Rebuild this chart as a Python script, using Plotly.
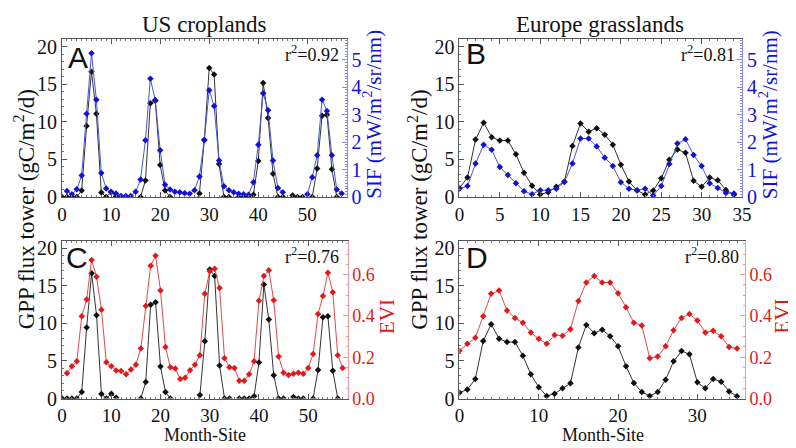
import plotly.graph_objects as go

W, H = 796, 448

# ---------------- data ----------------
# US croplands: GPP (panels A and C share the same tower series)
x_gpp_us = list(range(0, 57))
gpp_us = [0, 0, 0, 0, 0.86, 9.45, 16.67, 11.08, 0.6, 0, 0.64, 0.1, -1, -1, -1, -1,
          0, 2.2, 12.46, 12.8, 4.25, 0.86, 0, -1, -1, -1, -1, -1, 0.45, 7.6,
          17.15, 16.3, 4.4, 0, 0, -1, 0, 0, 0, 0.3, 4.8, 15.15, 10.5, 3.1, 0, 0,
          -1, 0.2, 0, 0, -1, 0, 3.8, 10.8, 10.95, 3.7, 0]

x_sif_us = list(range(1, 58))
sif_us = [0.22, 0.1, 0.28, 0.78, 3.03, 5.23, 3.54, 0.87, 0.31, 0.19, 0.13, 0.04, 0.04,
          0.04, 0.19, 0.64, 2.07, 4.31, 3.53, 1.7, 0.45, 0.27, 0.19, 0.17, 0.14, 0.12,
          0.25, 0.75, 2.07, 3.89, 3.31, 1.33, 0.39, 0.25, 0.17, 0.12, 0.1, 0.08, 0.54,
          1.9, 3.78, 3.16, 1.33, 0.33, 0.17, None, None, None, None, 0.1, 0.72, 1.52,
          3.54, 3.13, 1.52, 0.27, 0.13]

x_evi_us = list(range(1, 58))
evi_us = [0.122, 0.156, 0.18, 0.398, 0.48, 0.671, 0.59, 0.43, 0.175, 0.156, 0.136,
          0.133, 0.117, 0.14, 0.164, 0.242, 0.448, 0.643, 0.692, 0.523, 0.25, 0.151,
          0.145, 0.094, 0.101, 0.137, 0.164, 0.21, 0.507, 0.617, 0.629, 0.535, 0.195,
          0.151, 0.148, 0.086, 0.086, 0.117, 0.18, 0.473, 0.593, 0.621, 0.476, 0.203,
          0.125, 0.114, 0.12, 0.125, 0.12, 0.148, 0.215, 0.409, 0.496, 0.609, 0.515,
          0.21, 0.148]

# Europe grasslands
x_gpp_eu_d = list(range(0, 36))
gpp_eu_d = [0.77, 1.2, 2.58, 7.64, 9.88, 7.95, 7.51, 7.51, 5.67, 3.22, 1.5, 0.34,
            0.64, 1.37, 2.02, 6.79, 9.79, 8.68, 9.15, 8.29, 6.96, 4.3, 2.06, 0.86,
            0.34, 0.86, 2.49, 4.94, 6.31, 5.89, 2.15, 1.37, 2.58, 2.23, 0.94, 0.3]

x_evi_eu = list(range(0, 36))
evi_eu = [0.231, 0.265, 0.294, 0.398, 0.507, 0.523, 0.426, 0.39, 0.367, 0.32, 0.289,
          0.265, 0.308, 0.304, 0.336, 0.472, 0.562, 0.593, 0.562, 0.562, 0.51, 0.442,
          0.367, 0.354, 0.195, 0.203, 0.253, 0.331, 0.39, 0.409, 0.378, 0.32, 0.328,
          0.301, 0.25, 0.242]

x_gpp_eu_b = list(range(0, 35))
gpp_eu_b = [1.2, 2.58, 7.64, 9.88, 7.95, 7.51, 7.51, 5.67, 3.22, 1.5, 0.34, 0.64,
            1.37, 2.02, 6.79, 9.79, 8.68, 9.15, 8.29, 6.96, 4.3, 2.06, 0.86, 0.34,
            0.86, 2.49, 4.94, 6.31, 5.89, 2.15, 1.37, 2.58, 2.23, 0.94, 0.3]

x_sif_eu = list(range(0, 35))
sif_eu = [0.3, 0.4, 1.22, 1.9, 1.72, 1.09, 0.8, 0.5, 0.21, 0.1, 0.25, 0.25, 0.3,
          0.55, 1.22, 2.13, 2.13, 1.84, 1.43, 1.13, 0.54, 0.3, 0.25, 0.3, 0.05, 0.4,
          1.2, 1.95, 2.1, 1.53, 1.13, 0.5, 0.33, 0.15, 0.13]

r2_labels = ["0.92", "0.81", "0.76", "0.80"]
panel_letters = ["A", "B", "C", "D"]
column_titles = ["US croplands", "Europe grasslands"]

# ---------------- style ----------------
SERIF = "Liberation Serif"
SANS = "Liberation Sans"
BLACK = "#111111"
BLUE = "#1212d6"
BLUE_LINE = "#4a55d8"
BLUE_AXIS = "#8a8ae8"
RED = "#e01a1a"
RED_LINE = "#e04a4a"
RED_AXIS = "#ee9a9a"

def fx(px):
    return px / W

def fy(py):
    return 1 - py / H

fig = go.Figure()

def add_series(x, y, xa, ya, color, line_color):
    fig.add_trace(go.Scatter(
        x=x, y=y, xaxis=xa, yaxis=ya, mode="lines+markers",
        line=dict(color=line_color, width=1),
        marker=dict(symbol="diamond", size=5, color=color),
        connectgaps=False, showlegend=False, hoverinfo="skip"))

add_series(x_gpp_us, gpp_us, "x", "y", BLACK, "#333333")
add_series(x_sif_us, sif_us, "x", "y2", BLUE, BLUE_LINE)
add_series(x_gpp_eu_b, gpp_eu_b, "x2", "y3", BLACK, "#333333")
add_series(x_sif_eu, sif_eu, "x2", "y4", BLUE, BLUE_LINE)
add_series(x_gpp_us, gpp_us, "x3", "y5", BLACK, "#333333")
add_series(x_evi_us, evi_us, "x3", "y6", RED, RED_LINE)
add_series(x_gpp_eu_d, gpp_eu_d, "x4", "y7", BLACK, "#333333")
add_series(x_evi_eu, evi_eu, "x4", "y8", RED, RED_LINE)

tickfont = dict(family=SERIF, size=19, color=BLACK)

def xaxis(domain, rng, dtick, anchor):
    return dict(domain=[fx(domain[0]), fx(domain[1])], range=rng, dtick=dtick,
                anchor=anchor, showline=True, linecolor="#555555", linewidth=1,
                mirror="ticks", ticks="inside", ticklen=5, tickcolor="#555555",
                minor=dict(ticks="inside", ticklen=2, dtick=1, tickcolor="#777777"),
                showgrid=False, zeroline=False, tickfont=tickfont, tick0=0)

def yleft(domain, anchor):
    return dict(domain=[fy(domain[1]), fy(domain[0])], range=[0, 21], dtick=5,
                anchor=anchor, showline=True, linecolor="#555555", linewidth=1,
                ticks="inside", ticklen=5, tickcolor="#555555",
                minor=dict(ticks="inside", ticklen=2, dtick=1, tickcolor="#777777"),
                showgrid=False, zeroline=False,
                tickfont=dict(family=SERIF, size=20, color=BLACK), tick0=0)

def yright(overlay, anchor, rng, dtick, mdtick, color, axcolor, fmt, size):
    return dict(overlaying=overlay, side="right", anchor=anchor, range=rng,
                dtick=dtick, tick0=0, tickformat=fmt,
                showline=True, linecolor=axcolor, linewidth=1,
                ticks="inside", ticklen=5, tickcolor=axcolor,
                minor=dict(ticks="inside", ticklen=2, dtick=mdtick, tickcolor=axcolor),
                showgrid=False, zeroline=False,
                tickfont=dict(family=SERIF, size=size, color=color))

A_x, A_y = (50, 340), (29, 192)
B_x, B_y = (455, 743), (29, 192)
C_x, C_y = (50, 341), (237, 400)
D_x, D_y = (455, 746), (237, 400)

fig.update_layout(
    width=W, height=H, margin=dict(l=0, r=0, t=0, b=0),
    paper_bgcolor="white", plot_bgcolor="white", showlegend=False,
    font=dict(family=SERIF),
    xaxis=xaxis(A_x, [0, 58], 10, "y"),
    yaxis=yleft(A_y, "x"),
    yaxis2=yright("y", "x", [0, 5.75], 1, 0.1, BLUE, BLUE_AXIS, "d", 20),
    xaxis2=xaxis(B_x, [0, 35], 5, "y3"),
    yaxis3=yleft(B_y, "x2"),
    yaxis4=yright("y3", "x2", [0, 5.75], 1, 0.1, BLUE, BLUE_AXIS, "d", 20),
    xaxis3=xaxis(C_x, [0, 58], 10, "y5"),
    yaxis5=yleft(C_y, "x3"),
    yaxis6=yright("y5", "x3", [0, 0.765], 0.2, 0.05, RED, RED_AXIS, ".1f", 18),
    xaxis4=xaxis(D_x, [0, 36], 10, "y7"),
    yaxis7=yleft(D_y, "x4"),
    yaxis8=yright("y7", "x4", [0, 0.765], 0.2, 0.05, RED, RED_AXIS, ".1f", 18),
)

ann = []
def text(px, py, s, size, color=BLACK, family=SERIF, angle=0, xanchor="center",
         yanchor="middle"):
    ann.append(dict(x=fx(px), y=fy(py), xref="paper", yref="paper", text=s,
                    showarrow=False, textangle=angle, xanchor=xanchor,
                    yanchor=yanchor, font=dict(family=family, size=size, color=color)))

# column titles
text(195, 14, column_titles[0], 23)
text(598, 14, column_titles[1], 23)
# left titles
gpp_title = "GPP flux tower (gC/m<sup>2</sup>/d)"
text(12, 205, gpp_title, 23, angle=-90)
text(413, 205, gpp_title, 23, angle=-90)
# right titles
sif_title = "SIF (mW/m<sup>2</sup>/sr/nm)"
text(367, 107, sif_title, 21, color=BLUE, angle=-90)
text(770, 107, sif_title, 21, color=BLUE, angle=-90)
text(381, 315, "EVI", 21, color=RED, angle=-90)
text(784, 315, "EVI", 21, color=RED, angle=-90)
# x titles
text(196, 437.5, "Month-Site", 18)
text(601, 437.5, "Month-Site", 18)
# panel letters
text(54, 48, panel_letters[0], 30, family=SANS, xanchor="left")
text(460, 44, panel_letters[1], 30, family=SANS, xanchor="left")
text(52, 254, panel_letters[2], 30, family=SANS, xanchor="left")
text(460, 254, panel_letters[3], 30, family=SANS, xanchor="left")
# r^2
for (px, py), r in zip([(334, 44), (738, 44), (334, 252), (742, 252)], r2_labels):
    text(px, py, "r<sup>2</sup>=" + r, 18, xanchor="right")

fig.update_layout(annotations=ann)
fig.write_html("out.html")
